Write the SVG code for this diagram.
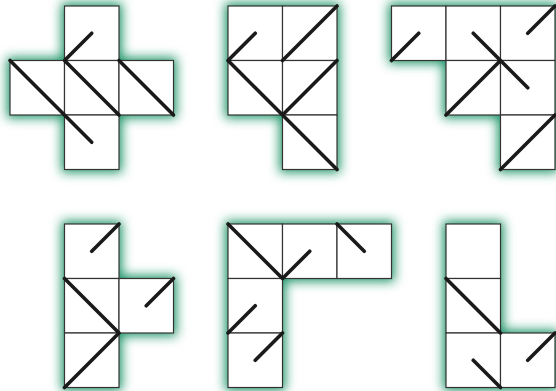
<svg xmlns="http://www.w3.org/2000/svg" width="556" height="391" viewBox="0 0 556 391">
<defs>
<filter id="glow" x="-25%" y="-25%" width="150%" height="150%">
<feMorphology operator="dilate" radius="3"/>
<feGaussianBlur stdDeviation="5.5"/>
</filter>
<style>
.g{fill:#1f9468;filter:url(#glow)}
.c{fill:#fff;stroke:#333;stroke-width:1.2}
.d{stroke:#1a1a1a;stroke-width:3.6;stroke-linecap:round;fill:none}
</style>
</defs>
<rect width="556" height="391" fill="#fff"/>
<g id="net1">
<path class="g" d="M64.5,6H119V60.5H173.5V115H119V169.5H64.5V115H10V60.5H64.5Z"/>
<rect class="c" x="64.5" y="6" width="54.5" height="54.5"/>
<rect class="c" x="10" y="60.5" width="54.5" height="54.5"/>
<rect class="c" x="64.5" y="60.5" width="54.5" height="54.5"/>
<rect class="c" x="119" y="60.5" width="54.5" height="54.5"/>
<rect class="c" x="64.5" y="115" width="54.5" height="54.5"/>
<path class="d" d="M64.5,60.5L91.75,33.25M10,60.5L91.75,142.25M64.5,60.5L119,115M119,60.5L173.5,115"/>
</g>
<g id="net2">
<path class="g" d="M228,6H337V169.5H282.5V115H228Z"/>
<rect class="c" x="228" y="6" width="54.5" height="54.5"/>
<rect class="c" x="282.5" y="6" width="54.5" height="54.5"/>
<rect class="c" x="228" y="60.5" width="54.5" height="54.5"/>
<rect class="c" x="282.5" y="60.5" width="54.5" height="54.5"/>
<rect class="c" x="282.5" y="115" width="54.5" height="54.5"/>
<path class="d" d="M228,60.5L255.25,33.25M282.5,60.5L337,6M228,60.5L337,169.5M282.5,115L337,60.5"/>
</g>
<g id="net3">
<path class="g" d="M391.5,6H555V169.5H500.5V115H446V60.5H391.5Z"/>
<rect class="c" x="391.5" y="6" width="54.5" height="54.5"/>
<rect class="c" x="446" y="6" width="54.5" height="54.5"/>
<rect class="c" x="500.5" y="6" width="54.5" height="54.5"/>
<rect class="c" x="446" y="60.5" width="54.5" height="54.5"/>
<rect class="c" x="500.5" y="60.5" width="54.5" height="54.5"/>
<rect class="c" x="500.5" y="115" width="54.5" height="54.5"/>
<path class="d" d="M391.5,60.5L418.75,33.25M527.75,33.25L555,6M473.25,33.25L527.75,87.75M446,115L500.5,60.5M500.5,169.5L555,115"/>
</g>
<g id="net4">
<path class="g" d="M64.5,224H119V278.5H173.5V333H119V387.5H64.5Z"/>
<rect class="c" x="64.5" y="224" width="54.5" height="54.5"/>
<rect class="c" x="64.5" y="278.5" width="54.5" height="54.5"/>
<rect class="c" x="119" y="278.5" width="54.5" height="54.5"/>
<rect class="c" x="64.5" y="333" width="54.5" height="54.5"/>
<path class="d" d="M91.75,251.25L119,224M146.25,305.75L173.5,278.5M64.5,278.5L119,333M119,333L64.5,387.5"/>
</g>
<g id="net5">
<path class="g" d="M228,224H391.5V278.5H282.5V387.5H228Z"/>
<rect class="c" x="228" y="224" width="54.5" height="54.5"/>
<rect class="c" x="282.5" y="224" width="54.5" height="54.5"/>
<rect class="c" x="337" y="224" width="54.5" height="54.5"/>
<rect class="c" x="228" y="278.5" width="54.5" height="54.5"/>
<rect class="c" x="228" y="333" width="54.5" height="54.5"/>
<path class="d" d="M228,224L282.5,278.5M282.5,278.5L309.75,251.25M337,224L364.25,251.25M228,333L255.25,305.75M282.5,333L255.25,360.25"/>
</g>
<g id="net6">
<path class="g" d="M446,224H500.5V333H555V387.5H446Z"/>
<rect class="c" x="446" y="224" width="54.5" height="54.5"/>
<rect class="c" x="446" y="278.5" width="54.5" height="54.5"/>
<rect class="c" x="446" y="333" width="54.5" height="54.5"/>
<rect class="c" x="500.5" y="333" width="54.5" height="54.5"/>
<path class="d" d="M446,278.5L500.5,333M473.25,360.25L500.5,387.5M527.75,360.25L555,333"/>
</g>
</svg>
